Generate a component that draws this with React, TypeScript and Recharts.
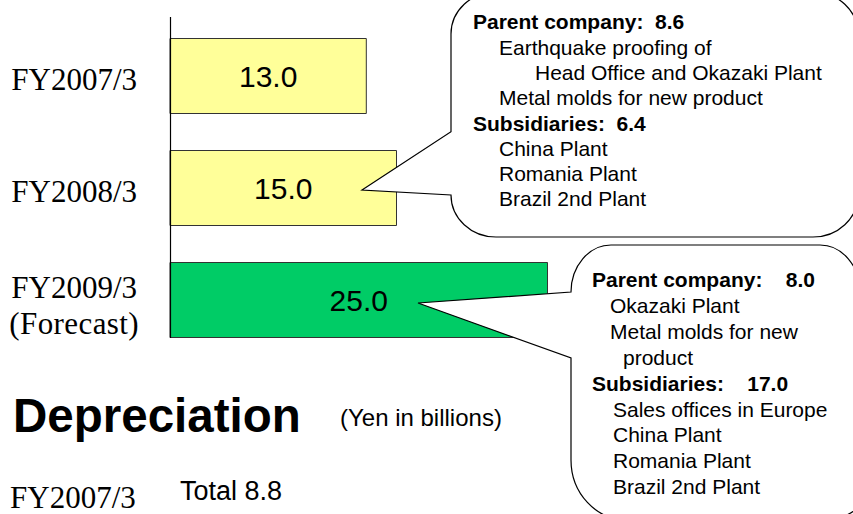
import React from 'react';
import { BarChart, Bar, XAxis, YAxis, LabelList, Cell } from 'recharts';

const categories = ['FY2007/3', 'FY2008/3', 'FY2009/3'];
const subLabels = ['', '', '(Forecast)'];
const values = [13.0, 15.0, 25.0];
const barColors = ['#FFFF99', '#FFFF99', '#00CC66'];

const callout1Lines = [
  { text: 'Parent company:  8.6', bold: true, indent: 0 },
  { text: 'Earthquake proofing of', bold: false, indent: 1 },
  { text: 'Head Office and Okazaki Plant', bold: false, indent: 2 },
  { text: 'Metal molds for new product', bold: false, indent: 1 },
  { text: 'Subsidiaries:  6.4', bold: true, indent: 0 },
  { text: 'China Plant', bold: false, indent: 1 },
  { text: 'Romania Plant', bold: false, indent: 1 },
  { text: 'Brazil 2nd Plant', bold: false, indent: 1 },
];

const callout2Lines = [
  { text: 'Parent company:    8.0', bold: true, indent: 0 },
  { text: 'Okazaki Plant', bold: false, indent: 1 },
  { text: 'Metal molds for new', bold: false, indent: 1 },
  { text: 'product', bold: false, indent: 2 },
  { text: 'Subsidiaries:    17.0', bold: true, indent: 0 },
  { text: 'Sales offices in Europe', bold: false, indent: 3 },
  { text: 'China Plant', bold: false, indent: 3 },
  { text: 'Romania Plant', bold: false, indent: 3 },
  { text: 'Brazil 2nd Plant', bold: false, indent: 3 },
];

const titleText = 'Depreciation';
const unitText = '(Yen in billions)';
const subYear = 'FY2007/3';
const subTotal = 'Total 8.8';

const data = categories.map((c, i) => ({ name: c, sub: subLabels[i], value: values[i] }));

const SANS = '"Liberation Sans", Arial, sans-serif';
const SERIF = '"Liberation Serif", "Times New Roman", serif';

const CategoryTick = (props: any) => {
  const { x, y, payload, index } = props;
  const sub = subLabels[index];
  return (
    <text x={x} y={y} textAnchor="end" fontFamily={SERIF} fontSize={31} fill="#000">
      {sub ? (
        <>
          <tspan x={x} dy={-2}>{payload.value}</tspan>
          <tspan x={x + 2} dy={36.6} letterSpacing={0.4}>{sub}</tspan>
        </>
      ) : (
        <tspan x={x} dy={14}>{payload.value}</tspan>
      )}
    </text>
  );
};

const indent1 = [473, 499, 535];
const indent2 = [592, 610, 623, 613];

export default function App() {
  return (
    <div style={{ position: 'relative', width: 853, height: 514, background: '#fff', overflow: 'hidden' }}>
      <style>{'body{margin:0;}'}</style>
      <BarChart
        width={853}
        height={514}
        data={data}
        layout="vertical"
        margin={{ top: 19.5, right: 79, bottom: 158.5, left: 0 }}
        barSize={75}
      >
        <XAxis type="number" domain={[0, 40]} hide />
        <YAxis
          type="category"
          dataKey="name"
          width={170}
          axisLine={false}
          tickLine={false}
          tickSize={0}
          tickMargin={33}
          tick={<CategoryTick />}
          interval={0}
        />
        <Bar dataKey="value" stroke="#333" strokeWidth={1} isAnimationActive={false}>
          {data.map((d, i) => (
            <Cell key={d.name} fill={barColors[i]} />
          ))}
          <LabelList
            dataKey="value"
            position="center"
            formatter={(v: any) => Number(v).toFixed(1)}
            fill="#000"
            fontSize={30}
            fontFamily={SANS}
          />
        </Bar>
      </BarChart>
      <svg
        width={853}
        height={514}
        style={{ position: 'absolute', left: 0, top: 0, pointerEvents: 'none' }}
      >
        <line x1={170.5} y1={17} x2={170.5} y2={338} stroke="#000" strokeWidth={1.2} />
        <path
          d="M 451 34 A 45 42 0 0 1 496 -8 L 813 -8 A 45 42 0 0 1 858 34 L 858 195 A 45 42 0 0 1 813 237 L 496 237 A 45 42 0 0 1 451 195 L 362 190 L 451 131.7 Z"
          fill="#fff"
          stroke="#000"
          strokeWidth={1.2}
        />
        <path
          d="M 571 292 A 40 47 0 0 1 611 245 L 820 245 A 40 47 0 0 1 860 292 L 880 460 A 56 60 0 0 1 824 520 L 627 520 A 56 60 0 0 1 571 460 L 571 358 L 418 303 L 571 292 Z"
          fill="#fff"
          stroke="#000"
          strokeWidth={1.2}
        />
        {callout1Lines.map((l, i) => (
          <text
            key={'c1' + i}
            x={indent1[l.indent]}
            y={29.3 + i * 25.3}
            fontFamily={SANS}
            fontSize={21}
            fontWeight={l.bold ? 'bold' : 'normal'}
            fill="#000"
            style={{ whiteSpace: 'pre' }}
            xmlSpace="preserve"
          >
            {l.text}
          </text>
        ))}
        {callout2Lines.map((l, i) => (
          <text
            key={'c2' + i}
            x={indent2[l.indent]}
            y={287 + i * 25.9}
            fontFamily={SANS}
            fontSize={21}
            fontWeight={l.bold ? 'bold' : 'normal'}
            fill="#000"
            style={{ whiteSpace: 'pre' }}
            xmlSpace="preserve"
          >
            {l.text}
          </text>
        ))}
        <text x={13} y={432} fontFamily={SANS} fontSize={47.5} fontWeight="bold" fill="#000">
          {titleText}
        </text>
        <text x={340} y={426} fontFamily={SANS} fontSize={24} fill="#000">
          {unitText}
        </text>
        <text x={10} y={508} fontFamily={SERIF} fontSize={31} fill="#000">
          {subYear}
        </text>
        <text x={180} y={500} fontFamily={SANS} fontSize={27} fill="#000">
          {subTotal}
        </text>
      </svg>
    </div>
  );
}
